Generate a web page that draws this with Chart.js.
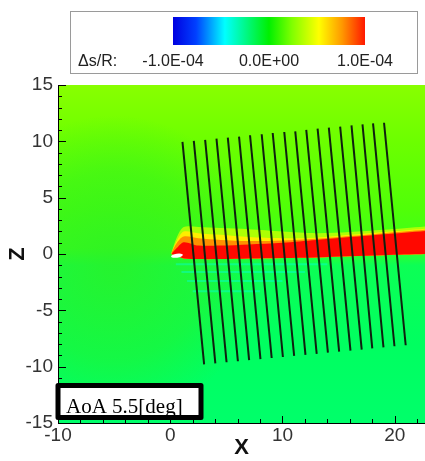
<!DOCTYPE html>
<html>
<head>
<meta charset="utf-8">
<script src="https://cdn.jsdelivr.net/npm/chart.js@4/dist/chart.umd.min.js"></script>
<style>
    body { margin: 0; background: #fff; }
    #wrap { width: 425px; height: 461px; }
</style>
</head>
<body>
<div id="wrap"><canvas id="entropyChart" width="425" height="461"></canvas></div>
<script>
// axis ticks
const xTicks = [-10, 0, 10, 20];
const yTicks = [-15, -10, -5, 0, 5, 10, 15];
const cbarLabels = ['-1.0E-04', '0.0E+00', '1.0E-04'];

// survey lines (top end / bottom end)
const lineTopX = [1.09, 2.10, 3.11, 4.12, 5.13, 6.13, 7.11, 8.15, 9.13, 10.16, 11.14, 12.12, 13.13, 14.13, 15.14, 16.15, 17.13, 18.07, 19.05];
const lineTopZ = [9.95, 10.04, 10.13, 10.24, 10.33, 10.42, 10.54, 10.63, 10.74, 10.83, 10.89, 11.01, 11.13, 11.21, 11.30, 11.42, 11.51, 11.60, 11.65];
const lineBotX = [3.02, 4.02, 5.02, 6.03, 7.03, 8.04, 9.04, 10.04, 11.04, 12.05, 13.05, 14.05, 15.05, 16.06, 17.06, 18.00, 19.00, 19.98, 20.98];
const lineBotZ = [-9.80, -9.71, -9.61, -9.52, -9.42, -9.33, -9.23, -9.14, -9.04, -8.95, -8.86, -8.76, -8.67, -8.57, -8.48, -8.38, -8.29, -8.19, -8.10];

// wake contour boundaries
const wakeX = [0.1, 0.6, 1.2, 2.5, 4.5, 7, 10, 13, 16, 19, 22.7];
const haloZ = [0.1, 1.5, 2.4, 2.4, 2.3, 2.2, 2.0, 1.85, 1.95, 2.15, 2.45];
const yellowZ = [0.1, 1.2, 2.0, 1.85, 1.7, 1.5, 1.4, 1.45, 1.7, 1.95, 2.25];
const orangeZ = [0.1, 1.0, 1.55, 1.4, 1.25, 1.15, 1.2, 1.35, 1.6, 1.85, 2.15];
const redTopZ = [0.0, 0.55, 1.05, 0.75, 0.75, 0.85, 1.0, 1.25, 1.5, 1.75, 2.05];
const redBotZ = [0.0, -0.15, -0.4, -0.45, -0.45, -0.4, -0.35, -0.3, -0.2, -0.1, 0.0];

// faint cyan streaks below wake
const streakZ = [-0.9, -1.6, -2.4, -3.3];
const streakX0 = [0.5, 1.0, 1.5, 2.0];
const streakX1 = [14, 12, 10, 8];

const pts = (xs, zs) => xs.map((x, i) => ({ x: x, y: zs[i] }));

function band(zs, color, fillTo, order) {
    return {
        data: pts(wakeX, zs),
        borderWidth: 0,
        borderColor: 'rgba(0,0,0,0)',
        backgroundColor: color,
        pointRadius: 0,
        tension: 0.3,
        fill: fillTo,
        order: order
    };
}

const datasets = [
    band(redBotZ, 'rgba(0,0,0,0)', false, 10),       // index 0 = lower boundary
    band(haloZ, 'rgba(200,255,0,0.8)', 0, 9),
    band(yellowZ, '#ffee00', 0, 8),
    band(orangeZ, '#ff9000', 0, 7),
    band(redTopZ, '#ff0800', 0, 6)
];

streakZ.forEach((z, i) => {
    datasets.push({
        data: [{ x: streakX0[i], y: z }, { x: streakX1[i], y: z }],
        borderColor: 'rgba(0,255,230,0.4)',
        borderWidth: 2,
        pointRadius: 0,
        fill: false,
        order: 5
    });
});

lineTopX.forEach((x, i) => {
    datasets.push({
        data: [{ x: x, y: lineTopZ[i] }, { x: lineBotX[i], y: lineBotZ[i] }],
        borderColor: '#0f200f',
        borderWidth: 2,
        pointRadius: 0,
        fill: false,
        order: 0
    });
});

// green field behind everything
const fieldBackground = {
    id: 'fieldBackground',
    beforeDraw(chart) {
        const { ctx, chartArea: a, scales } = chart;
        const y = scales.y, x = scales.x;
        const f = (v) => (y.getPixelForValue(v) - a.top) / a.height;
        ctx.save();
        const g = ctx.createLinearGradient(0, a.top, 0, a.bottom);
        g.addColorStop(0, '#88ff00');
        g.addColorStop(f(10), '#6cff00');
        g.addColorStop(f(4), '#50ff08');
        g.addColorStop(f(0.5), '#3cff1c');
        g.addColorStop(f(-1), '#0cff55');
        g.addColorStop(f(-8), '#00ff60');
        g.addColorStop(1, '#00ff6a');
        ctx.fillStyle = g;
        ctx.fillRect(a.left, a.top, a.width, a.height);

        // purer green on the upstream side
        const cx = x.getPixelForValue(-5), cy = y.getPixelForValue(-1);
        const r = ctx.createRadialGradient(cx, cy, 10, cx, cy, 150);
        r.addColorStop(0, 'rgba(45,240,35,0.75)');
        r.addColorStop(0.6, 'rgba(45,240,35,0.45)');
        r.addColorStop(1, 'rgba(45,240,35,0)');
        ctx.fillStyle = r;
        ctx.fillRect(a.left, a.top, a.width, a.height);
        ctx.restore();
    }
};

// inward tecplot style ticks, colour bar and annotation
const overlays = {
    id: 'overlays',
    afterDatasetsDraw(chart) {
        const { ctx, chartArea: a, scales } = chart;
        ctx.save();
        ctx.strokeStyle = '#000';
        ctx.lineWidth = 1;
        ctx.beginPath();
        for (let v = -10; v <= 22; v += 2) {
            const px = Math.round(scales.x.getPixelForValue(v)) + 0.5;
            const len = xTicks.includes(v) ? 7 : 4;
            ctx.moveTo(px, a.bottom);
            ctx.lineTo(px, a.bottom - len);
        }
        for (let v = -15; v <= 15; v += 1) {
            const py = Math.round(scales.y.getPixelForValue(v)) + 0.5;
            const len = yTicks.includes(v) ? 8 : 4;
            ctx.moveTo(a.left, py);
            ctx.lineTo(a.left + len, py);
        }
        ctx.stroke();

        // white nose spot
        ctx.fillStyle = '#ffffff';
        ctx.beginPath();
        ctx.ellipse(scales.x.getPixelForValue(0.6), scales.y.getPixelForValue(-0.15), 6, 2, -0.15, 0, Math.PI * 2);
        ctx.fill();

        // annotation box
        ctx.fillStyle = '#fff';
        ctx.fillRect(a.left, 386, 143, 32);
        ctx.lineWidth = 5;
        ctx.strokeStyle = '#000';
        ctx.lineJoin = 'round';
        ctx.strokeRect(a.left, 385.5, 143, 32);
        ctx.fillStyle = '#000';
        ctx.font = '21px "Liberation Serif", "Times New Roman", serif';
        ctx.textBaseline = 'alphabetic';
        ctx.textAlign = 'left';
        ctx.fillText('AoA 5.5[deg]', a.left + 8, 413);
        ctx.restore();
    },
    afterDraw(chart) {
        const { ctx } = chart;
        ctx.save();
        // legend frame
        ctx.strokeStyle = '#9a9a9a';
        ctx.lineWidth = 1;
        ctx.strokeRect(70.5, 11.5, 347, 62);
        // colour bar
        const x0 = 173, x1 = 365;
        const g = ctx.createLinearGradient(x0, 0, x1, 0);
        g.addColorStop(0, '#0000e0');
        g.addColorStop(0.12, '#0040ff');
        g.addColorStop(0.27, '#00ffff');
        g.addColorStop(0.5, '#00f000');
        g.addColorStop(0.62, '#80ff00');
        g.addColorStop(0.76, '#ffff00');
        g.addColorStop(0.88, '#ff9900');
        g.addColorStop(1, '#ff1800');
        ctx.fillStyle = g;
        ctx.fillRect(x0, 17, x1 - x0, 28);
        ctx.fillStyle = '#222';
        ctx.font = '16px "Liberation Sans", Arial, sans-serif';
        ctx.textBaseline = 'middle';
        ctx.textAlign = 'left';
        ctx.fillText('\u0394s/R:', 78, 62);
        ctx.textAlign = 'center';
        const cx = [x0, (x0 + x1) / 2, x1];
        cbarLabels.forEach((t, i) => ctx.fillText(t, cx[i], 62));
        ctx.restore();
    }
};

const el = document.getElementById('entropyChart');

new Chart(el.getContext('2d'), {
    type: 'line',
    data: { datasets: datasets },
    options: {
        responsive: false,
        animation: false,
        layout: { padding: { top: 85, left: 0, right: 0, bottom: 0 } },
        plugins: {
            legend: { display: false },
            tooltip: { enabled: false }
        },
        scales: {
            x: {
                type: 'linear',
                min: -10,
                max: 22.7,
                afterFit: (s) => { s.height = 38; },
                afterBuildTicks: (s) => { s.ticks = xTicks.map(v => ({ value: v })); },
                ticks: {
                    includeBounds: false,
                    padding: 1,
                    color: '#333',
                    font: { family: '"Liberation Sans", Arial, sans-serif', size: 19 }
                },
                grid: { display: false, drawTicks: false },
                border: { display: true, color: '#000', width: 1 },
                title: {
                    display: true,
                    text: 'X',
                    color: '#111',
                    padding: { top: 0, bottom: 0 },
                    font: { family: '"Liberation Sans", Arial, sans-serif', size: 22, weight: 'bold' }
                }
            },
            y: {
                type: 'linear',
                min: -15,
                max: 15,
                afterFit: (s) => { s.width = 58; },
                afterBuildTicks: (s) => { s.ticks = yTicks.map(v => ({ value: v })); },
                ticks: {
                    padding: 5,
                    color: '#333',
                    font: { family: '"Liberation Sans", Arial, sans-serif', size: 19 }
                },
                grid: { display: false, drawTicks: false },
                border: { display: true, color: '#000', width: 1 },
                title: {
                    display: true,
                    text: 'Z',
                    color: '#111',
                    padding: { top: 5, bottom: 0 },
                    font: { family: '"Liberation Sans", Arial, sans-serif', size: 22, weight: 'bold' }
                }
            }
        }
    },
    plugins: [fieldBackground, overlays]
});
</script>
</body>
</html>
